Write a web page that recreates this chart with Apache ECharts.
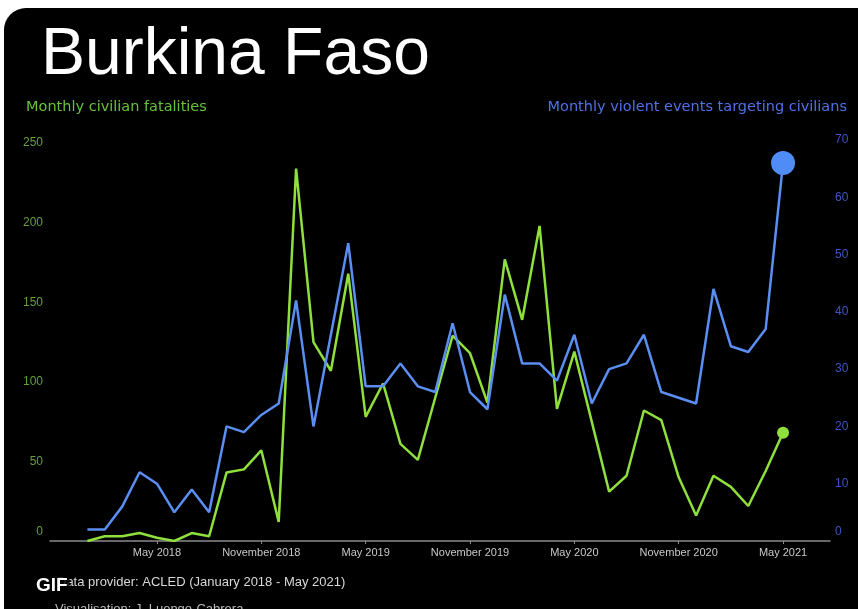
<!DOCTYPE html>
<html>
<head>
<meta charset="utf-8">
<script src="https://cdn.jsdelivr.net/npm/echarts@6/dist/echarts.min.js"></script>
<style>
  html, body { margin: 0; padding: 0; background: #ffffff; }
  #chart { width: 858px; height: 609px; }
</style>
</head>
<body>
<div id="chart"></div>
<script>
// Months: January 2018 (index 0) .. May 2021 (index 40)
const fatalities = [0,3,3,5,2,0,5,3,43,45,57,12,234,125,107,168,78,99,61,51,90,129,118,87,177,139,198,83,119,75,31,41,82,76,40,16,41,34,22,44,68];
const events = [2,2,6,12,10,5,9,5,20,19,22,24,42,20,36,52,27,27,31,27,26,38,26,23,43,31,31,28,36,24,30,31,36,26,25,24,44,34,33,37,66];
const xTickIndex = [4,10,16,22,28,34,40];
const xTickLabels = ['May 2018','November 2018','May 2019','November 2019','May 2020','November 2020','May 2021'];
const leftTicks = [0,50,100,150,200,250];
const rightTicks = [0,10,20,30,40,50,60,70];

const GREEN = '#8fe03c';
const BLUE = '#5b8ef2';
const SANS = '"Liberation Sans", Arial, sans-serif';
const WIDE = '"DejaVu Sans", Verdana, sans-serif';

const fatalData = fatalities.map((v, i) => [i, v]);
const eventData = events.map((v, i) => [i, v]);
const lastIdx = fatalities.length - 1;

const chart = echarts.init(document.getElementById('chart'));
chart.setOption({
  backgroundColor: 'transparent',
  animation: false,
  graphic: [
    { type: 'rect', z: -10, silent: true,
      shape: { x: 4, y: 8, width: 860, height: 610, r: [22, 0, 0, 0] },
      style: { fill: '#000000' } },
    { type: 'text', z: 100, left: 34, top: 574,
      style: { text: 'GIF', fill: '#ffffff', font: 'bold 19px ' + SANS,
               backgroundColor: 'rgba(0,0,0,0.8)', padding: [2, 2, 1, 2] } }
  ],
  title: [
    { text: 'Burkina Faso', left: 36, top: 18,
      textStyle: { color: '#ffffff', fontSize: 66, fontWeight: 'normal', fontFamily: SANS } },
    { text: 'Monthly civilian fatalities', left: 21, top: 95,
      textStyle: { color: '#66c23a', fontSize: 14.5, fontWeight: 'normal', fontFamily: WIDE } },
    { text: 'Monthly violent events targeting civilians', right: 6, top: 95,
      textStyle: { color: '#5170e6', fontSize: 14.5, fontWeight: 'normal', fontFamily: WIDE } },
    { text: 'Data provider: ACLED (January 2018 - May 2021)', left: 52, top: 571,
      textStyle: { color: '#d8d8d8', fontSize: 13, fontWeight: 'normal', fontFamily: SANS } },
    { text: 'Visualisation: J. Luengo-Cabrera', left: 50, top: 598,
      textStyle: { color: '#bbbbbb', fontSize: 13, fontWeight: 'normal', fontFamily: SANS } }
  ],
  grid: { left: 50, right: 28, top: 140, bottom: 68, containLabel: false },
  xAxis: {
    type: 'value',
    min: -2.15,
    max: 42.7,
    splitLine: { show: false },
    axisLine: { show: true, onZero: false, lineStyle: { color: '#8a8a8a', width: 1.5 } },
    axisTick: { show: true, customValues: xTickIndex, length: 3, lineStyle: { color: '#8a8a8a' } },
    axisLabel: {
      customValues: xTickIndex,
      color: '#c8c8c8', fontSize: 11, margin: 6, fontFamily: SANS,
      formatter: v => { const k = xTickIndex.indexOf(Math.round(v)); return k >= 0 ? xTickLabels[k] : ''; }
    }
  },
  yAxis: [
    {
      type: 'value', position: 'left', min: 0, max: 252,
      axisLine: { show: false }, axisTick: { show: false }, splitLine: { show: false },
      axisLabel: {
        customValues: leftTicks,
        color: '#649e38', fontSize: 12, margin: 7, fontFamily: SANS,
        formatter: v => v === 0 ? '{z|0}' : String(v),
        rich: { z: { color: '#649e38', fontSize: 12, fontFamily: SANS, padding: [0, 0, 18, 0] } }
      }
    },
    {
      type: 'value', position: 'right', min: 0, max: 70, interval: 10,
      axisLine: { show: false }, axisTick: { show: false }, splitLine: { show: false },
      axisLabel: {
        customValues: rightTicks,
        color: '#3c55c4', fontSize: 12, margin: 5, fontFamily: SANS,
        formatter: v => v === 0 ? '{z|0}' : String(v),
        rich: { z: { color: '#3c55c4', fontSize: 12, fontFamily: SANS, padding: [0, 0, 18, 0] } }
      }
    }
  ],
  series: [
    {
      name: 'Monthly civilian fatalities', type: 'line', yAxisIndex: 0,
      data: fatalData,
      showSymbol: true, symbol: 'circle',
      symbolSize: (val, p) => p.dataIndex === lastIdx ? 12 : 0,
      lineStyle: { color: GREEN, width: 2.5 },
      itemStyle: { color: GREEN },
      z: 3
    },
    {
      name: 'Monthly violent events targeting civilians', type: 'line', yAxisIndex: 1,
      data: eventData,
      showSymbol: true, symbol: 'circle',
      symbolSize: (val, p) => p.dataIndex === lastIdx ? 24 : 0,
      lineStyle: { color: BLUE, width: 2.5 },
      itemStyle: { color: '#4f8cf5' },
      z: 4
    }
  ]
});
</script>
</body>
</html>
